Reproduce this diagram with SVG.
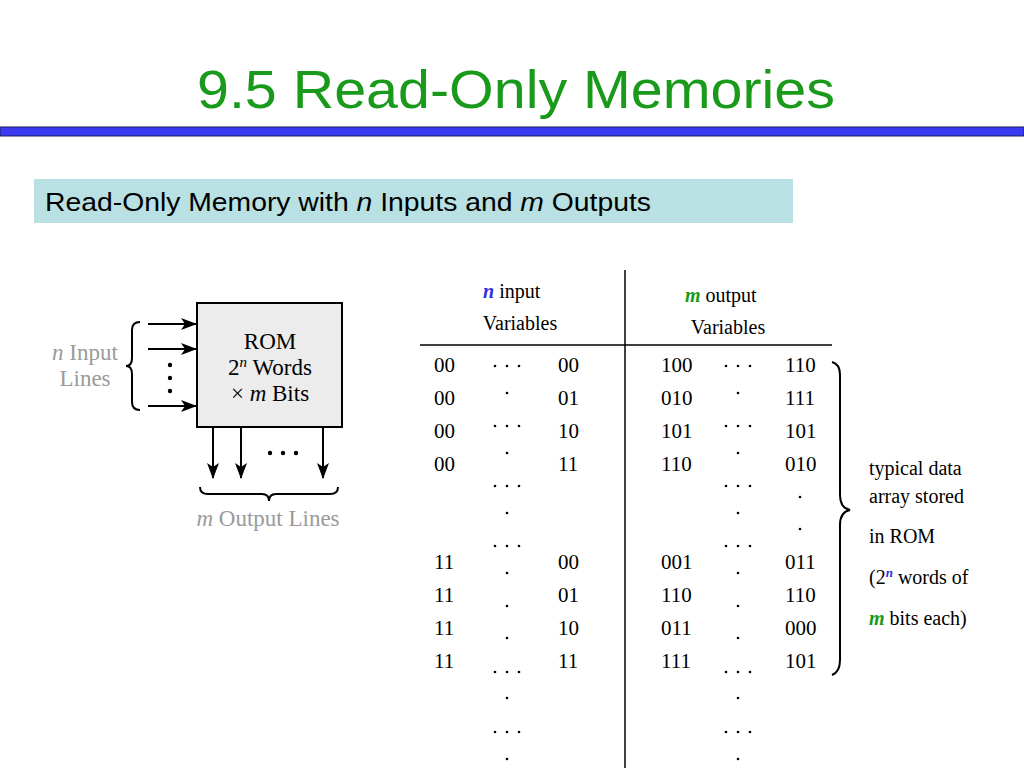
<svg xmlns="http://www.w3.org/2000/svg" width="1024" height="768" viewBox="0 0 1024 768">
<defs>
<style>
.s{font-family:"Liberation Serif","Times New Roman",serif;fill:#000}
.g{fill:#9a9a9a}
.ln{stroke:#000;stroke-width:2;fill:none}
.d{fill:#000}
</style>
<marker id="ah" markerWidth="16" markerHeight="12" refX="15" refY="6" orient="auto" markerUnits="userSpaceOnUse"><path d="M0,0 L16,6 L0,12 L4,6 Z" fill="#000"/></marker>
<g id="tri"><circle cx="-12" cy="0" r="1.3"/><circle cx="0" cy="0" r="1.3"/><circle cx="12" cy="0" r="1.3"/></g>
<g id="one"><circle cx="0" cy="0" r="1.3"/></g>
</defs>
<rect width="1024" height="768" fill="#fff"/>
<text x="516" y="108" text-anchor="middle" font-family="Liberation Sans,Arial,sans-serif" font-size="54" fill="#1a9a1a" textLength="638" lengthAdjust="spacingAndGlyphs">9.5 Read-Only Memories</text>
<rect x="0" y="127" width="1024" height="9" fill="#3a3af0" stroke="#1a1a60" stroke-width="1"/>
<rect x="34" y="179" width="759" height="44" fill="#b9e0e2"/>
<text x="45" y="211" font-family="Liberation Sans,Arial,sans-serif" font-size="25" fill="#000" textLength="606" lengthAdjust="spacingAndGlyphs">Read-Only Memory with <tspan font-style="italic">n</tspan> Inputs and <tspan font-style="italic">m</tspan> Outputs</text>

<g id="rom">
<rect x="197" y="303" width="145" height="124" fill="#ececec" stroke="#000" stroke-width="2"/>
<text class="s" x="270" y="349" text-anchor="middle" font-size="23">ROM</text>
<text class="s" x="270" y="375" text-anchor="middle" font-size="23">2<tspan font-style="italic" font-size="15" dy="-8">n</tspan><tspan dy="8"> Words</tspan></text>
<text class="s" x="270" y="401" text-anchor="middle" font-size="23">× <tspan font-style="italic">m</tspan> Bits</text>
</g>
<g id="inputs-label">
<text class="s g" x="85" y="360" text-anchor="middle" font-size="23"><tspan font-style="italic">n</tspan> Input</text>
<text class="s g" x="85" y="386" text-anchor="middle" font-size="23">Lines</text>
<path class="ln" stroke-width="1.2" d="M140,322 Q132,322 132,330 L132,358 Q132,366 126,366 Q132,366 132,374 L132,402 Q132,410 140,410"/>
</g>
<g id="outputs-label">
<text class="s g" x="268" y="526" text-anchor="middle" font-size="23"><tspan font-style="italic">m</tspan> Output Lines</text>
<path class="ln" stroke-width="1.2" d="M200,487 Q200,494 208,494 L262,494 Q269,494 269,501 Q269,494 276,494 L330,494 Q338,494 338,487"/>
</g>
<g id="connectors">
<line class="ln" x1="148" y1="324" x2="196" y2="324" marker-end="url(#ah)"/>
<line class="ln" x1="148" y1="349" x2="196" y2="349" marker-end="url(#ah)"/>
<line class="ln" x1="148" y1="406" x2="196" y2="406" marker-end="url(#ah)"/>
<line class="ln" x1="213" y1="428" x2="213" y2="478" marker-end="url(#ah)"/>
<line class="ln" x1="241" y1="428" x2="241" y2="478" marker-end="url(#ah)"/>
<line class="ln" x1="323" y1="428" x2="323" y2="478" marker-end="url(#ah)"/>
</g>
<g class="d">
<circle cx="170" cy="365" r="2.2"/><circle cx="170" cy="378" r="2.2"/><circle cx="170" cy="391" r="2.2"/>
<circle cx="270" cy="453" r="2.2"/><circle cx="283" cy="453" r="2.2"/><circle cx="296" cy="453" r="2.2"/>
</g>

<g id="table">
<line x1="625" y1="270" x2="625" y2="768" stroke="#000" stroke-width="1.5"/>
<line x1="420" y1="345" x2="832" y2="345" stroke="#000" stroke-width="1.5"/>
<text class="s" x="483" y="298" font-size="20"><tspan fill="#3030e0" font-style="italic" font-weight="bold">n</tspan>  input</text>
<text class="s" x="520" y="330" text-anchor="middle" font-size="20">Variables</text>
<text class="s" x="685" y="302" font-size="20"><tspan fill="#1a9a1a" font-style="italic" font-weight="bold">m</tspan>  output</text>
<text class="s" x="728" y="334" text-anchor="middle" font-size="20">Variables</text>
<g font-size="21" class="s">
<text class="s" x="434" y="372">00</text><text class="s" x="558" y="372">00</text><text class="s" x="661" y="372">100</text><text class="s" x="785" y="372">110</text>
<text class="s" x="434" y="405">00</text><text class="s" x="558" y="405">01</text><text class="s" x="661" y="405">010</text><text class="s" x="785" y="405">111</text>
<text class="s" x="434" y="438">00</text><text class="s" x="558" y="438">10</text><text class="s" x="661" y="438">101</text><text class="s" x="785" y="438">101</text>
<text class="s" x="434" y="471">00</text><text class="s" x="558" y="471">11</text><text class="s" x="661" y="471">110</text><text class="s" x="785" y="471">010</text>
<text class="s" x="434" y="569">11</text><text class="s" x="558" y="569">00</text><text class="s" x="661" y="569">001</text><text class="s" x="785" y="569">011</text>
<text class="s" x="434" y="602">11</text><text class="s" x="558" y="602">01</text><text class="s" x="661" y="602">110</text><text class="s" x="785" y="602">110</text>
<text class="s" x="434" y="635">11</text><text class="s" x="558" y="635">10</text><text class="s" x="661" y="635">011</text><text class="s" x="785" y="635">000</text>
<text class="s" x="434" y="668">11</text><text class="s" x="558" y="668">11</text><text class="s" x="661" y="668">111</text><text class="s" x="785" y="668">101</text>
</g>
<g class="d">
<use href="#tri" x="507" y="366"/><use href="#one" x="507" y="393"/><use href="#tri" x="507" y="426"/><use href="#one" x="507" y="453"/>
<use href="#tri" x="507" y="486"/><use href="#one" x="507" y="513"/><use href="#tri" x="507" y="546"/><use href="#one" x="507" y="573"/>
<use href="#one" x="507" y="606"/><use href="#one" x="507" y="638"/><use href="#tri" x="507" y="672"/><use href="#one" x="507" y="698"/>
<use href="#tri" x="507" y="732"/><use href="#one" x="507" y="759"/>
<use href="#tri" x="738" y="366"/><use href="#one" x="738" y="393"/><use href="#tri" x="738" y="426"/><use href="#one" x="738" y="453"/>
<use href="#tri" x="738" y="486"/><use href="#one" x="738" y="513"/><use href="#tri" x="738" y="546"/><use href="#one" x="738" y="573"/>
<use href="#one" x="738" y="606"/><use href="#one" x="738" y="638"/><use href="#tri" x="738" y="672"/><use href="#one" x="738" y="698"/>
<use href="#tri" x="738" y="732"/><use href="#one" x="738" y="759"/>
<use href="#one" x="800" y="497"/><use href="#one" x="800" y="529"/>
</g>
</g>
<g id="note">
<path class="ln" stroke-width="1.4" d="M832,362 Q840,364 840,375 L840,495 Q840,508 850,510 Q840,512 840,525 L840,660 Q840,672 832,675"/>
<text class="s" x="869" y="475" font-size="20">typical data</text>
<text class="s" x="869" y="503" font-size="20">array stored</text>
<text class="s" x="869" y="543" font-size="20">in ROM</text>
<text class="s" x="869" y="584" font-size="20">(2<tspan fill="#3030e0" font-style="italic" font-weight="bold" font-size="13" dy="-7">n</tspan><tspan dy="7"> words of</tspan></text>
<text class="s" x="869" y="625" font-size="20"><tspan fill="#1a9a1a" font-style="italic" font-weight="bold">m</tspan> bits each)</text>
</g>
</svg>
